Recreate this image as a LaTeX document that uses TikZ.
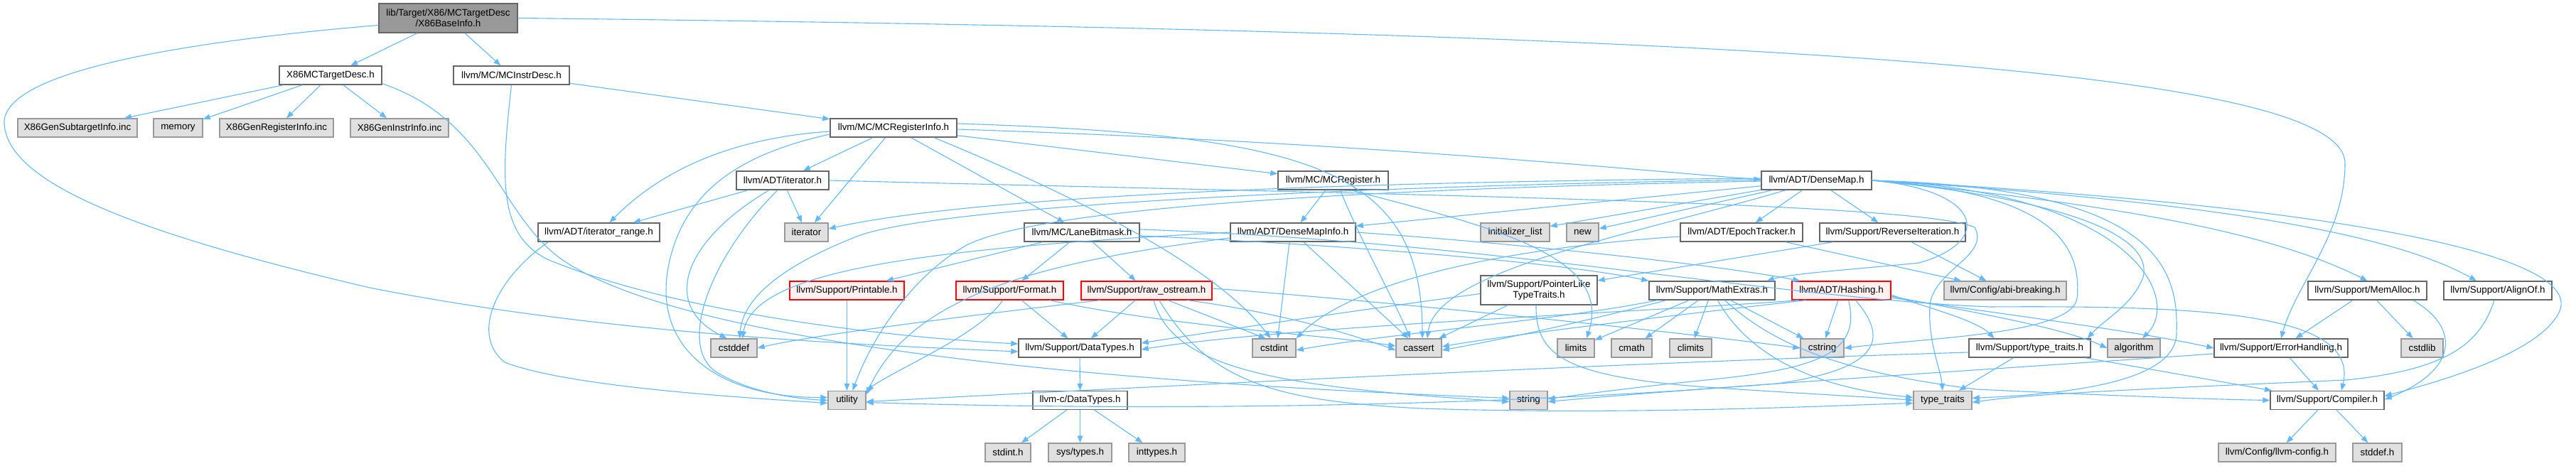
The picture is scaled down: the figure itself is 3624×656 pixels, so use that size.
\documentclass[tikz,border=0pt]{standalone}
\usepackage{fontspec}
\setmainfont{Liberation Sans}
\usetikzlibrary{arrows.meta,calc}
\definecolor{edgec}{HTML}{63B8FF}
\definecolor{bdark}{HTML}{666666}
\definecolor{bgrey}{HTML}{999999}
\definecolor{fgrey}{HTML}{E0E0E0}
\definecolor{fred}{HTML}{FFF0F0}
\tikzset{
 hb/.style={draw=bdark, fill=white, line width=0.7pt, minimum height=13pt, inner sep=0pt, font=\fontsize{6.7}{7.4}\selectfont, align=center},
 hg/.style={hb, draw=bgrey, fill=fgrey},
 hr/.style={hb, draw=red, fill=fred},
 hroot/.style={hb, fill=bgrey, minimum height=20.5pt},
 e/.style={draw=edgec, line width=0.55pt, -{Triangle[length=5pt,width=3.8pt]}},
}
\begin{document}
\begin{tikzpicture}[x=0.5pt,y=-0.5pt]
\useasboundingbox (0,0) rectangle (3624,656);
% nodes
\node[hroot,minimum width=97.5pt] (root) at (630.5,25.5) {lib/Target/X86/MCTargetDesc\\/X86BaseInfo.h};
\node[hb,minimum width=72pt] (xmc) at (465,106) {X86MCTargetDesc.h};
\node[hb,minimum width=81.5pt] (instr) at (719.5,106) {llvm/MC/MCInstrDesc.h};
\node[hg,minimum width=84pt] (gsub) at (109,180) {X86GenSubtargetInfo.inc};
\node[hg,minimum width=34.5pt] (memory) at (250.5,180) {memory};
\node[hg,minimum width=80pt] (greg) at (389,180) {X86GenRegisterInfo.inc};
\node[hg,minimum width=69pt] (ginstr) at (562,180) {X86GenInstrInfo.inc};
\node[hb,minimum width=89pt] (reginfo) at (1257,180) {llvm/MC/MCRegisterInfo.h};
\node[hb,minimum width=65pt] (iter) at (1101,254) {llvm/ADT/iterator.h};
\node[hb,minimum width=77.5pt] (mcreg) at (1875.5,254) {llvm/MC/MCRegister.h};
\node[hb,minimum width=77.5pt] (densemap) at (2555.5,254) {llvm/ADT/DenseMap.h};
\node[hb,minimum width=85.5pt] (itrange) at (842.5,327) {llvm/ADT/iterator\_range.h};
\node[hg,minimum width=30.5pt] (iterator) at (1134.5,327) {iterator};
\node[hb,minimum width=81pt] (lane) at (1522,327) {llvm/MC/LaneBitmask.h};
\node[hb,minimum width=88pt] (dmi) at (1819,327) {llvm/ADT/DenseMapInfo.h};
\node[hg,minimum width=48.5pt] (initlist) at (2131.5,327) {initializer\_list};
\node[hg,minimum width=22.5pt] (new) at (2226.5,327) {new};
\node[hb,minimum width=86pt] (epoch) at (2450,327) {llvm/ADT/EpochTracker.h};
\node[hb,minimum width=102.5pt] (reviter) at (2662.5,327) {llvm/Support/ReverseIteration.h};
\node[hr,minimum width=80.5pt] (printable) at (1191.5,409) {llvm/Support/Printable.h};
\node[hr,minimum width=75.5pt] (format) at (1420.5,409) {llvm/Support/Format.h};
\node[hr,minimum width=92pt] (rawos) at (1613,409) {llvm/Support/raw\_ostream.h};
\node[hb,minimum width=82pt,minimum height=20.5pt] (ptrlike) at (2165,408.5) {llvm/Support/PointerLike\\TypeTraits.h};
\node[hb,minimum width=88.5pt] (mathex) at (2408.5,409) {llvm/Support/MathExtras.h};
\node[hr,minimum width=69.5pt] (hashing) at (2590.5,409) {llvm/ADT/Hashing.h};
\node[hg,minimum width=86pt] (abi) at (2821,409) {llvm/Config/abi-breaking.h};
\node[hb,minimum width=83.5pt] (memalloc) at (3330.5,409) {llvm/Support/MemAlloc.h};
\node[hb,minimum width=76pt] (alignof) at (3514,409) {llvm/Support/AlignOf.h};
\node[hg,minimum width=32.5pt] (cstddef) at (1032.5,490) {cstddef};
\node[hb,minimum width=86pt] (datatypes) at (1519,490) {llvm/Support/DataTypes.h};
\node[hg,minimum width=30.5pt] (cstdint) at (1792.5,490) {cstdint};
\node[hg,minimum width=32pt] (cassert) at (1996,490) {cassert};
\node[hg,minimum width=26pt] (limits) at (2217,490) {limits};
\node[hg,minimum width=28.5pt] (cmath) at (2295.5,490) {cmath};
\node[hg,minimum width=29.5pt] (climits) at (2378.5,490) {climits};
\node[hg,minimum width=30.5pt] (cstring) at (2563.5,490) {cstring};
\node[hb,minimum width=85.5pt] (typetraitsh) at (2855.5,490) {llvm/Support/type\_traits.h};
\node[hg,minimum width=37pt] (algorithm) at (3002,490) {algorithm};
\node[hb,minimum width=94pt] (errh) at (3209,490) {llvm/Support/ErrorHandling.h};
\node[hg,minimum width=29.5pt] (cstdlib) at (3407.5,490) {cstdlib};
\node[hg,minimum width=26.5pt] (utility) at (1191.5,563.5) {utility};
\node[hb,minimum width=66.5pt] (cdatatypes) at (1519.5,563.5) {llvm-c/DataTypes.h};
\node[hg,minimum width=26.5pt] (string) at (2150.5,563.5) {string};
\node[hg,minimum width=41pt] (typetraits) at (2733,563.5) {type\_traits};
\node[hb,minimum width=80pt] (compiler) at (3274,563.5) {llvm/Support/Compiler.h};
\node[hg,minimum width=32pt] (stdinth) at (1418,637) {stdint.h};
\node[hg,minimum width=44.5pt] (systypes) at (1519.5,637) {sys/types.h};
\node[hg,minimum width=39.5pt] (inttypes) at (1627.5,637) {inttypes.h};
\node[hg,minimum width=82.5pt] (llvmconfig) at (3203.5,637) {llvm/Config/llvm-config.h};
\node[hg,minimum width=34.5pt] (stddefh) at (3344.5,637) {stddef.h};
% root
\draw[e] (root) -- (xmc);
\draw[e] (root) -- (instr);
\draw[e] ($(root.west)+(0,10)$) .. controls (300,55) and (0,95) .. (6,175) .. controls (12,260) and (200,330) .. (520,405) .. controls (850,470) and (1200,485) .. ($(datatypes.west)+(0,5)$);
\draw[e] (root.east) .. controls (2500,45) and (3299,100) .. (3299,230) .. controls (3299,330) and (3230,400) .. (errh.north);
% X86MCTargetDesc
\draw[e] (xmc) -- (gsub);
\draw[e] (xmc) -- (memory);
\draw[e] (xmc) -- (greg);
\draw[e] (xmc) -- (ginstr);
\draw[e] ($(xmc.south east)+(0,-2)$) .. controls (690,170) and (700,300) .. (790,365) .. controls (1000,510) and (1800,548) .. ($(string.west)+(0,-3)$);
% MCInstrDesc
\draw[e] (instr) -- (reginfo);
\draw[e] (instr.south) .. controls (705,250) and (700,330) .. (770,365) .. controls (950,440) and (1250,475) .. ($(datatypes.west)+(0,-6)$);
% MCRegisterInfo
\draw[e] (reginfo) -- (iter);
\draw[e] (reginfo) -- (iterator);
\draw[e] (reginfo) -- (lane);
\draw[e] (reginfo) -- (mcreg);
\draw[e] ($(reginfo.east)+(0,2)$) .. controls (1900,200) and (2250,235) .. ($(densemap.west)+(0,-1)$);
\draw[e] ($(reginfo.west)+(0,5)$) .. controls (1020,195) and (925,245) .. ($(itrange.north)+(15,0)$);
\draw[e] ($(reginfo.west)+(0,9)$) .. controls (1050,215) and (980,260) .. (950,340) .. controls (900,480) and (1000,560) .. ($(utility.west)+(0,-4)$);
\draw[e] ($(reginfo.south)+(57,0)$) .. controls (1450,250) and (1700,360) .. ($(cstdint.north)+(-5,0)$);
\draw[e] ($(reginfo.east)+(0,-6)$) .. controls (1850,190) and (2000,240) .. ($(cassert.north)+(5,0)$);
% iterator.h
\draw[e] (iter) -- (itrange);
\draw[e] (iter) -- (iterator);
\draw[e] ($(iter.south)+(-19,0)$) .. controls (960,340) and (930,430) .. ($(cstddef.north)+(-10,0)$);
\draw[e] ($(iter.south)+(-7,0)$) .. controls (1000,360) and (950,490) .. (1010,525) .. controls (1060,555) and (1130,562) .. (utility.west);
\draw[e] (iter.east) .. controls (2000,275) and (2700,285) .. (2778,320) .. controls (2800,360) and (2720,380) .. (2715,430) .. controls (2712,480) and (2730,520) .. (typetraits.north);
% iterator_range
\draw[e] ($(itrange.south west)+(15,0)$) .. controls (700,390) and (660,470) .. (710,510) .. controls (800,545) and (1050,560) .. ($(utility.west)+(0,4)$);
% MCRegister
\draw[e] (mcreg) -- (dmi);
\draw[e] ($(mcreg.south)+(10,0)$) .. controls (1910,330) and (1960,420) .. ($(cassert.north)+(-12,0)$);
\draw[e] ($(mcreg.south)+(25,0)$) .. controls (2100,320) and (2270,360) .. ($(limits.north)+(15,0)$);
% LaneBitmask
\draw[e] (lane) -- (printable);
\draw[e] (lane) -- (format);
\draw[e] (lane) -- (rawos);
\draw[e] ($(lane.east)+(0,5)$) .. controls (1900,345) and (2200,370) .. (mathex.north west);
\draw[e] ($(lane.east)+(0,-4)$) .. controls (2100,340) and (2500,420) .. (2800,432) .. controls (3100,430) and (3320,440) .. ($(compiler.north)+(20,0)$);
% DenseMap
\draw[e] (densemap) -- (dmi);
\draw[e] (densemap) -- (initlist);
\draw[e] (densemap) -- (new);
\draw[e] (densemap) -- (epoch);
\draw[e] (densemap) -- (reviter);
\draw[e] ($(densemap.west)+(0,-3)$) .. controls (2000,255) and (1400,270) .. ($(iterator.east)+(0,-5)$);
\draw[e] ($(densemap.west)+(0,-1)$) .. controls (1900,262) and (1300,290) .. (1200,335) .. controls (1100,375) and (1045,420) .. ($(cstddef.north)+(8,0)$);
\draw[e] ($(densemap.west)+(0,1)$) .. controls (1800,268) and (1450,300) .. (1360,345) .. controls (1280,390) and (1225,480) .. ($(utility.north)+(8,0)$);
\draw[e] ($(densemap.south west)+(35,0)$) .. controls (2300,330) and (2020,380) .. ($(cassert.north)+(12,0)$);
\draw[e] (densemap.east) .. controls (2790,268) and (2805,340) .. (2700,370) .. controls (2600,380) and (2520,385) .. ($(mathex.north east)+(-12,0)$);
\draw[e] (densemap.east) .. controls (2880,270) and (2930,340) .. (2922,420) .. controls (2915,470) and (2720,475) .. (cstring.east);
\draw[e] (densemap.east) .. controls (2900,280) and (3030,330) .. (3015,390) .. controls (3000,430) and (2960,450) .. ($(typetraitsh.north east)+(-5,0)$);
\draw[e] (densemap.east) .. controls (3000,270) and (3070,420) .. ($(algorithm.north)+(12,0)$);
\draw[e] (densemap.east) .. controls (3040,265) and (3065,380) .. (3062,470) .. controls (3060,540) and (2900,555) .. ($(typetraits.east)+(0,-3)$);
\draw[e] (densemap.east) .. controls (3000,290) and (3200,330) .. (memalloc.north);
\draw[e] (densemap.east) .. controls (3050,280) and (3350,320) .. ($(alignof.north)+(-30,0)$);
\draw[e] (densemap.east) .. controls (3300,290) and (3640,360) .. (3600,440) .. controls (3570,500) and (3420,540) .. ($(compiler.east)+(0,-6)$);
% DenseMapInfo
\draw[e] ($(dmi.south)+(-5,0)$) -- ($(cstdint.north)+(5,0)$);
\draw[e] (dmi) -- (cassert);
\draw[e] (dmi.west) .. controls (1300,350) and (1060,380) .. ($(cstddef.north)+(12,0)$);
\draw[e] ($(dmi.west)+(0,8)$) .. controls (1450,370) and (1280,420) .. ($(utility.east)+(0,-8)$);
\draw[e] (dmi.east) .. controls (2100,340) and (2400,370) .. ($(hashing.north west)+(12,0)$);
% EpochTracker, ReverseIteration
\draw[e] (epoch) -- (abi);
\draw[e] ($(epoch.west)+(0,6)$) .. controls (2100,350) and (1900,400) .. (cstdint.north east);
\draw[e] (reviter) -- (ptrlike);
\draw[e] (reviter) -- (abi);
% PointerLikeTypeTraits
\draw[e] ($(ptrlike.west)+(0,5)$) .. controls (1850,445) and (1700,468) .. ($(datatypes.east)+(0,-7)$);
\draw[e] (ptrlike) -- (cassert);
\draw[e] ($(ptrlike.south)+(-4,0)$) .. controls (2160,500) and (2200,530) .. (2400,545) .. controls (2550,555) and (2650,560) .. (typetraits.west);
% MathExtras
\draw[e] ($(mathex.south west)+(12,0)$) .. controls (2200,450) and (1950,470) .. ($(cstdint.east)+(0,3)$);
\draw[e] ($(mathex.south west)+(25,0)$) .. controls (2200,460) and (2100,480) .. ($(cassert.east)+(0,3)$);
\draw[e] (mathex) -- (limits);
\draw[e] (mathex) -- (cmath);
\draw[e] (mathex) -- (climits);
\draw[e] (mathex) -- (cstring);
\draw[e] ($(mathex.south)+(8,0)$) .. controls (2460,500) and (2550,545) .. ($(typetraits.west)+(0,-4)$);
\draw[e] ($(mathex.south)+(18,0)$) .. controls (2500,490) and (2600,525) .. (2780,548) .. controls (2950,556) and (3100,562) .. (compiler.west);
% Hashing
\draw[e] ($(hashing.south west)+(10,0)$) .. controls (2300,440) and (1800,460) .. ($(datatypes.east)+(0,2)$);
\draw[e] ($(hashing.south west)+(20,0)$) .. controls (2300,450) and (2100,475) .. ($(cassert.east)+(0,-2)$);
\draw[e] (hashing) -- (cstring);
\draw[e] ($(hashing.south)+(10,0)$) .. controls (2620,500) and (2550,520) .. (2400,535) .. controls (2300,545) and (2220,556) .. ($(string.east)+(0,-2)$);
\draw[e] ($(hashing.south)+(20,0)$) .. controls (2660,480) and (2640,520) .. (2500,540) .. controls (2000,580) and (1500,575) .. ($(utility.east)+(0,3)$);
\draw[e] ($(hashing.east)+(0,6)$) .. controls (2700,430) and (2780,450) .. ($(typetraitsh.north)+(-50,0)$);
\draw[e] ($(hashing.east)+(0,8)$) .. controls (2750,435) and (2900,460) .. (algorithm.west);
\draw[e] ($(hashing.east)+(0,10)$) .. controls (2800,440) and (3000,465) .. (errh.west);
% Format
\draw[e] ($(format.south)+(-10,0)$) .. controls (1380,470) and (1260,520) .. (utility.north east);
\draw[e] (format) -- (datatypes);
\draw[e] ($(format.south east)+(-20,0)$) .. controls (1650,460) and (1850,470) .. ($(cassert.west)+(0,-3)$);
% raw_ostream
\draw[e] ($(rawos.south west)+(27,0)$) .. controls (1400,440) and (1150,470) .. (cstddef.east);
\draw[e] (rawos) -- (datatypes);
\draw[e] ($(rawos.south)+(30,0)$) -- ($(cstdint.north)+(-12,0)$);
\draw[e] ($(rawos.south east)+(-35,0)$) .. controls (1800,440) and (1900,470) .. ($(cassert.west)+(0,3)$);
\draw[e] ($(rawos.east)+(0,-3)$) .. controls (1900,420) and (2300,460) .. (cstring.west);
\draw[e] ($(rawos.south)+(10,0)$) .. controls (1650,520) and (1800,545) .. ($(string.west)+(0,2)$);
\draw[e] ($(rawos.south)+(18,0)$) .. controls (1700,540) and (1800,565) .. (2000,575) .. controls (2300,585) and (2600,570) .. ($(typetraits.west)+(0,4)$);
% Printable, DataTypes
\draw[e] (printable) -- (utility);
\draw[e] (datatypes) -- (cdatatypes);
\draw[e] (cdatatypes) -- (stdinth);
\draw[e] (cdatatypes) -- (systypes);
\draw[e] (cdatatypes) -- (inttypes);
% type_traits.h, ErrorHandling, MemAlloc, AlignOf, Compiler
\draw[e] (typetraitsh) -- (compiler);
\draw[e] (typetraitsh) -- (typetraits);
\draw[e] ($(typetraitsh.west)+(0,6)$) .. controls (2300,510) and (1600,545) .. ($(utility.east)+(0,2)$);
\draw[e] (errh) -- (compiler);
\draw[e] ($(errh.west)+(0,8)$) .. controls (2800,520) and (2400,545) .. ($(string.east)+(0,2)$);
\draw[e] (memalloc) -- (errh);
\draw[e] (memalloc) -- (cstdlib);
\draw[e] ($(memalloc.south east)+(-20,0)$) .. controls (3460,460) and (3460,520) .. ($(compiler.east)+(0,-1)$);
\draw[e] ($(alignof.south)+(-5,0)$) .. controls (3490,480) and (3450,520) .. (3300,535) .. controls (3000,548) and (2850,555) .. ($(typetraits.east)+(0,3)$);
\draw[e] (compiler) -- (llvmconfig);
\draw[e] (compiler) -- (stddefh);
\end{tikzpicture}
\end{document}
